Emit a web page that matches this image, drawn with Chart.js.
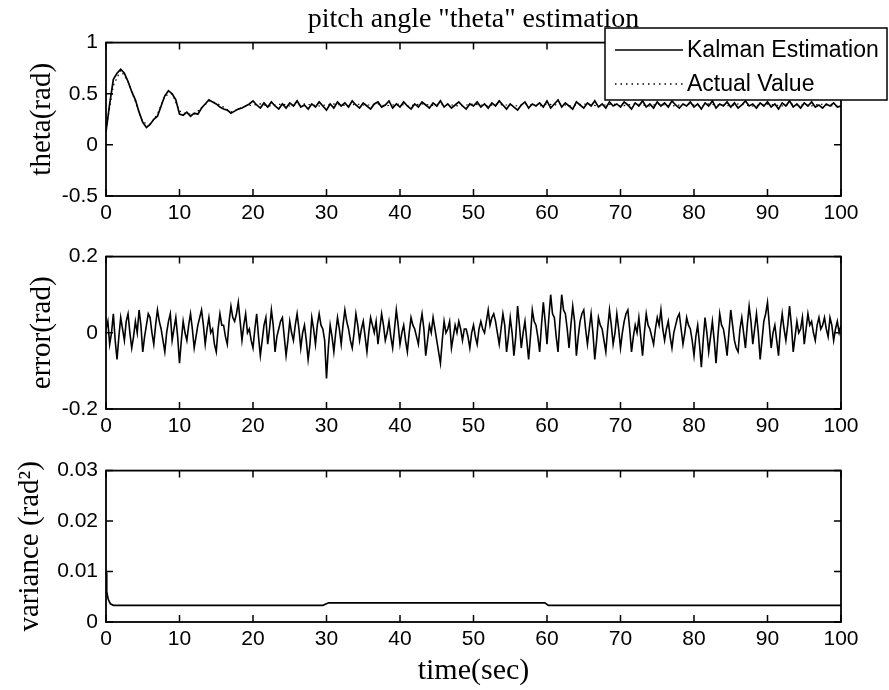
<!DOCTYPE html>
<html><head><meta charset="utf-8">
<script src="https://cdn.jsdelivr.net/npm/chart.js@4/dist/chart.umd.min.js"></script>
<style>
body{margin:0;background:#fff;width:889px;height:690px;overflow:hidden;position:relative}
canvas{position:absolute;left:0}
</style>
</head><body>
<canvas id="c1" width="889" height="236" style="top:0"></canvas>
<canvas id="c2" width="889" height="214" style="top:236px"></canvas>
<canvas id="c3" width="889" height="240" style="top:450px"></canvas>
<script>
// ---- data ----
const titleText = 'pitch angle "theta" estimation';
const xTicks = [0,10,20,30,40,50,60,70,80,90,100];
const thetaStep = 0.5;
const thetaEst = [
0.13,0.40,0.64,0.70,0.74,0.70,0.62,0.52,0.44,0.32,0.22,0.17,0.20,0.25,0.28,0.38,0.48,0.53,0.50,0.44,
0.30,0.29,0.32,0.28,0.31,0.30,0.36,0.40,0.44,0.42,0.40,0.37,0.35,0.34,0.31,0.33,0.35,0.36,0.38,0.40,
0.43,0.39,0.36,0.41,0.37,0.42,0.38,0.35,0.40,0.36,0.41,0.38,0.43,0.37,0.39,0.35,0.40,0.37,0.42,0.38,
0.34,0.40,0.36,0.42,0.38,0.41,0.37,0.43,0.39,0.36,0.41,0.38,0.35,0.40,0.42,0.37,0.39,0.43,0.36,0.40,
0.37,0.42,0.38,0.35,0.40,0.37,0.42,0.39,0.36,0.41,0.38,0.43,0.37,0.40,0.36,0.39,0.42,0.38,0.35,0.40,
0.38,0.42,0.37,0.40,0.36,0.41,0.38,0.43,0.39,0.35,0.40,0.37,0.34,0.39,0.42,0.36,0.40,0.38,0.41,0.37,
0.43,0.36,0.40,0.44,0.37,0.41,0.38,0.35,0.42,0.39,0.36,0.41,0.38,0.43,0.37,0.40,0.36,0.42,0.38,0.40,
0.37,0.42,0.39,0.35,0.41,0.38,0.43,0.37,0.40,0.36,0.42,0.38,0.41,0.37,0.43,0.39,0.36,0.40,0.38,0.42,
0.37,0.40,0.35,0.41,0.38,0.43,0.36,0.40,0.38,0.42,0.37,0.41,0.36,0.39,0.43,0.38,0.40,0.36,0.41,0.38,
0.42,0.37,0.40,0.35,0.41,0.38,0.43,0.37,0.40,0.36,0.41,0.38,0.42,0.37,0.39,0.36,0.40,0.38,0.41,0.37,
0.38];
const actualTime = [0,1,2,3,4,5,6,7,8,9,10,11,12,13,14,15,16,17,18,19,20,21,22,23,24,25,26,27,28,29,30,31,32,33,34,35,36,37,38,39,40,41,42,43,44,45,46,47,48,49,50,51,52,53,54,55,56,57,58,59,60,61,62,63,64,65,66,67,68,69,70,71,72,73,74,75,76,77,78,79,80,81,82,83,84,85,86,87,88,89,90,91,92,93,94,95,96,97,98,99,100];
const thetaActual = [
0.15,0.58,0.73,0.62,0.42,0.22,0.20,0.30,0.48,0.50,0.33,
0.30,0.30,0.36,0.43,0.41,0.37,0.32,0.35,0.38,0.39,
0.40,0.38,0.39,0.40,0.38,0.39,0.40,0.39,0.38,0.39,
0.40,0.39,0.38,0.40,0.39,0.39,0.40,0.38,0.39,0.40,
0.38,0.39,0.40,0.39,0.38,0.40,0.39,0.38,0.39,0.40,
0.39,0.38,0.40,0.39,0.39,0.38,0.40,0.39,0.38,0.40,
0.39,0.40,0.38,0.39,0.40,0.39,0.38,0.39,0.40,0.38,
0.39,0.40,0.39,0.38,0.40,0.39,0.38,0.39,0.40,0.39,
0.38,0.40,0.39,0.39,0.38,0.40,0.39,0.38,0.39,0.40,
0.39,0.38,0.40,0.39,0.39,0.38,0.40,0.39,0.38,0.39];
const errorStep = 0.25;
const errorVals = [
0.01,0.03,-0.03,0.00,0.05,-0.02,-0.07,-0.01,0.04,0.01,-0.02,0.03,0.05,0.00,-0.04,-0.01,0.03,0.00,0.06,0.02,-0.05,-0.01,0.02,0.05,0.04,0.00,-0.03,0.02,0.06,0.03,0.01,-0.02,-0.05,0.00,0.03,0.05,-0.02,0.01,0.04,-0.01,
-0.08,-0.02,0.03,0.00,-0.02,0.02,0.05,0.01,-0.04,-0.01,0.02,0.04,0.06,0.02,-0.03,0.01,0.04,0.00,0.01,-0.03,-0.05,0.01,0.05,0.02,0.02,-0.01,-0.03,0.03,0.07,0.04,0.03,0.05,0.08,0.03,-0.02,0.02,0.05,0.00,0.01,-0.02,
-0.04,0.01,0.05,-0.01,-0.06,-0.02,0.02,0.04,-0.03,0.01,0.06,0.02,-0.05,-0.01,0.01,0.03,0.04,-0.01,-0.06,-0.02,0.03,0.00,-0.02,0.02,0.05,0.01,-0.04,0.00,0.02,-0.02,-0.07,-0.03,0.04,0.01,-0.03,0.02,0.05,0.02,0.01,-0.02,
-0.12,-0.04,0.02,-0.01,-0.05,0.00,0.04,0.01,-0.03,0.02,0.06,0.03,0.01,-0.02,-0.04,0.00,0.05,0.02,-0.02,0.01,0.03,-0.01,-0.05,0.00,0.04,0.02,0.00,0.03,-0.03,0.01,0.05,0.02,-0.02,0.00,0.03,-0.01,-0.04,0.01,0.06,0.02,
-0.03,0.00,0.02,-0.02,-0.05,0.00,0.04,0.02,0.01,-0.01,-0.03,0.02,0.05,0.01,-0.06,-0.02,0.02,0.00,0.04,0.01,-0.02,-0.05,-0.08,-0.02,0.03,0.00,0.01,0.03,-0.04,-0.01,0.02,0.00,0.03,0.01,-0.02,0.01,0.01,-0.01,-0.04,0.00,
0.02,-0.01,-0.03,0.01,0.03,0.01,0.00,0.03,0.06,0.02,0.04,0.05,0.03,0.00,-0.03,0.01,0.05,0.02,-0.05,-0.01,0.04,0.00,-0.06,-0.01,0.07,0.02,-0.04,0.00,0.03,-0.02,-0.07,-0.01,0.06,0.03,0.02,-0.01,-0.05,0.02,0.08,0.03,
-0.03,0.04,0.10,0.05,0.04,-0.01,-0.05,0.03,0.10,0.06,0.05,0.01,-0.04,0.02,0.07,0.03,-0.06,-0.01,0.03,0.05,0.06,0.01,-0.03,0.01,0.05,0.00,-0.07,-0.02,0.04,0.02,0.01,-0.02,-0.05,0.01,0.06,0.02,-0.03,0.00,0.05,0.01,
-0.04,0.00,0.03,0.05,0.06,0.01,-0.05,-0.01,0.02,0.00,0.04,-0.01,-0.06,0.00,0.05,0.02,0.01,-0.01,-0.03,0.01,0.04,0.02,0.06,0.01,-0.02,0.01,0.03,-0.01,-0.04,0.00,0.02,0.04,0.05,0.01,-0.03,0.00,0.04,0.02,0.01,-0.02,
-0.06,-0.01,0.02,-0.03,-0.09,-0.02,0.04,0.00,-0.05,-0.01,0.03,-0.02,-0.08,-0.01,0.05,0.02,0.01,-0.02,-0.06,0.00,0.06,0.02,-0.02,-0.04,-0.05,0.01,0.04,0.00,-0.04,0.02,0.07,0.03,-0.03,0.01,0.05,0.00,-0.07,-0.02,0.03,0.05,
0.08,0.02,-0.04,0.00,0.02,-0.02,-0.06,0.01,0.05,0.01,-0.02,0.02,0.07,0.02,-0.05,-0.01,0.03,0.00,0.01,0.04,-0.03,0.01,0.05,0.02,0.03,0.00,-0.02,0.02,0.04,0.01,0.02,0.04,0.01,-0.01,0.04,0.02,-0.02,0.01,0.03,0.00,
0.02];
const varTime = [0,0.1,0.3,0.6,1,29.5,30.3,59.7,60.2,100];
const varVals = [0.0098,0.006,0.0045,0.0036,0.0033,0.0033,0.0038,0.0038,0.0033,0.0033];

// ---- helpers ----
const thetaTime = thetaEst.map((_, i) => i * thetaStep);
const errorTime = errorVals.map((_, i) => i * errorStep);
const pts = (xs, ys) => ys.map((y, i) => ({x: xs[i], y}));
const SANS = "'Liberation Sans', Arial, sans-serif";
const SERIF = "'Liberation Serif', 'Times New Roman', serif";

const framePlugin = {
  id: 'frame',
  afterDatasetsDraw(chart) {
    const {ctx, chartArea: a, scales} = chart;
    ctx.save();
    ctx.strokeStyle = '#000';
    ctx.lineWidth = 1.8;
    ctx.strokeRect(a.left, a.top, a.right - a.left, a.bottom - a.top);
    const L = 7;
    ctx.lineWidth = 1.5;
    ctx.beginPath();
    scales.x.ticks.forEach(t => {
      const px = scales.x.getPixelForValue(t.value);
      ctx.moveTo(px, a.bottom); ctx.lineTo(px, a.bottom - L);
      ctx.moveTo(px, a.top); ctx.lineTo(px, a.top + L);
    });
    scales.y.ticks.forEach(t => {
      const py = scales.y.getPixelForValue(t.value);
      ctx.moveTo(a.left, py); ctx.lineTo(a.left + L, py);
      ctx.moveTo(a.right, py); ctx.lineTo(a.right - L, py);
    });
    ctx.stroke();
    ctx.restore();
  }
};

const legendPlugin = {
  id: 'mlegend',
  afterDraw(chart) {
    const {ctx} = chart;
    const ds = chart.data.datasets;
    ctx.save();
    ctx.fillStyle = '#fff';
    ctx.fillRect(605, 28, 282, 72);
    ctx.strokeStyle = '#000';
    ctx.lineWidth = 1.5;
    ctx.strokeRect(605, 28, 282, 72);
    ctx.font = '23px ' + SANS;
    ctx.fillStyle = '#000';
    ctx.textBaseline = 'middle';
    const rows = [50, 84];
    ds.forEach((d, i) => {
      ctx.beginPath();
      ctx.setLineDash(d.borderDash ? [1.5, 4] : []);
      ctx.lineWidth = 1.5;
      ctx.moveTo(615, rows[i]); ctx.lineTo(683, rows[i]);
      ctx.stroke();
      ctx.setLineDash([]);
      ctx.fillText(d.label, 687, rows[i] + 1);
    });
    ctx.restore();
  }
};

function makeChart(id, datasets, cfg) {
  return new Chart(document.getElementById(id), {
    type: 'line',
    data: {datasets},
    options: {
      responsive: false,
      animation: false,
      devicePixelRatio: 1,
      layout: {padding: {top: cfg.padTop, right: 48, left: 0, bottom: 0}},
      plugins: {
        legend: {display: false},
        tooltip: {enabled: false},
        title: cfg.title ? {
          display: true, text: cfg.title, fullSize: false, color: '#000',
          font: {family: SERIF, size: 28, weight: 'normal'},
          padding: {top: 3, bottom: 6}
        } : {display: false}
      },
      elements: {point: {radius: 0}, line: {tension: 0}},
      scales: {
        x: {
          type: 'linear', min: 0, max: 100,
          afterBuildTicks: s => { s.ticks = xTicks.map(v => ({value: v})); },
          afterFit: s => { s.height = cfg.xHeight; },
          grid: {display: false, drawTicks: false},
          border: {display: false},
          ticks: {color: '#000', padding: 5, maxRotation: 0, font: {family: SANS, size: 21}},
          title: cfg.xTitle ? {display: true, text: cfg.xTitle, color: '#000',
            font: {family: SERIF, size: 30}, padding: {top: 0, bottom: 1}} : {display: false}
        },
        y: {
          min: cfg.yMin, max: cfg.yMax,
          afterBuildTicks: s => { s.ticks = cfg.yTicks.map(v => ({value: v})); },
          afterFit: s => { s.width = 106; },
          grid: {display: false, drawTicks: false},
          border: {display: false},
          ticks: {color: '#000', padding: 8, font: {family: SANS, size: 21},
            callback: v => String(+v.toFixed(4))},
          title: {display: true, text: cfg.yTitle, color: '#000',
            font: {family: SERIF, size: 29}, padding: {top: cfg.yTitlePad, bottom: 0}}
        }
      }
    },
    plugins: cfg.legend ? [framePlugin, legendPlugin] : [framePlugin]
  });
}

makeChart('c1', [
  {label: 'Kalman Estimation', data: pts(thetaTime, thetaEst), borderColor: '#000', borderWidth: 1.7},
  {label: 'Actual Value', data: pts(actualTime, thetaActual), borderColor: '#000', borderWidth: 1.2, borderDash: [1.5, 3.5]}
], {padTop: 0, title: titleText, xHeight: 40, yMin: -0.5, yMax: 1, yTicks: [-0.5, 0, 0.5, 1],
    yTitle: 'theta(rad)', yTitlePad: 25, legend: true});

makeChart('c2', [
  {label: 'error', data: pts(errorTime, errorVals), borderColor: '#000', borderWidth: 1.6}
], {padTop: 19, xHeight: 41, yMin: -0.2, yMax: 0.2, yTicks: [-0.2, 0, 0.2],
    yTitle: 'error(rad)', yTitlePad: 25});

makeChart('c3', [
  {label: 'variance', data: pts(varTime, varVals), borderColor: '#000', borderWidth: 1.7}
], {padTop: 18, xHeight: 68, xTitle: 'time(sec)', yMin: 0, yMax: 0.03, yTicks: [0, 0.01, 0.02, 0.03],
    yTitle: 'variance (rad\u00B2)', yTitlePad: 13});
</script>
</body></html>
